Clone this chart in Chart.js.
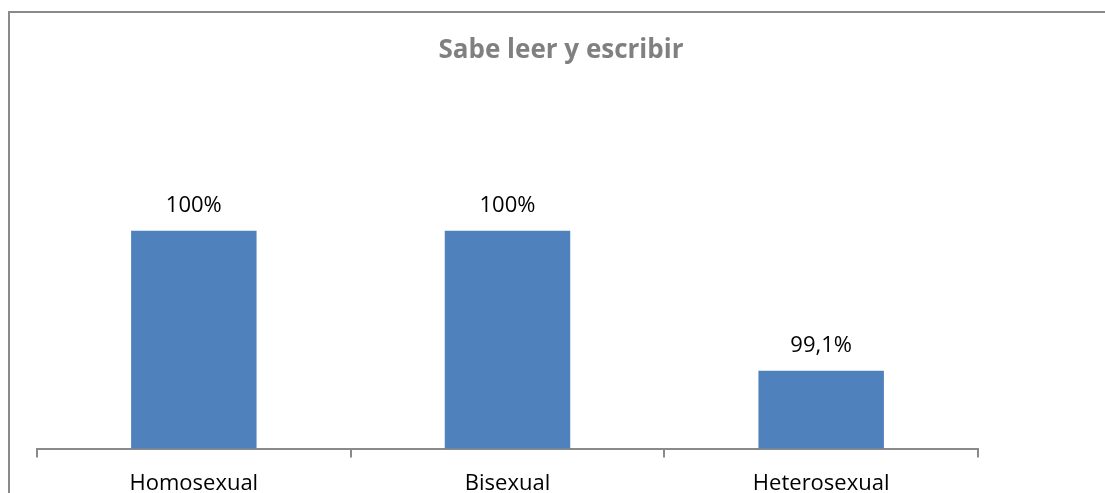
<!DOCTYPE html>
<html lang="es">
<head>
  <meta charset="UTF-8">
  <title>Sabe leer y escribir</title>
  <script src="https://cdn.jsdelivr.net/npm/chart.js"></script>
  <style>
    html, body {
      margin: 0;
      padding: 0;
      background: #ffffff;
      overflow: hidden;
      width: 1105px;
      height: 493px;
    }
    .frame {
      position: absolute;
      left: 8px;
      top: 11px;
      width: 1200px;
      height: 600px;
      border-top: 2px solid #8a8a8a;
      border-left: 2px solid #8a8a8a;
    }
    .chart-box {
      position: absolute;
      left: 0;
      top: 0;
      width: 1105px;
      height: 510px;
    }
  </style>
</head>
<body>
  <div class="frame"></div>
  <div class="chart-box">
    <canvas id="chart"></canvas>
  </div>

  <script>
    // data
    const categories = ['Homosexual', 'Bisexual', 'Heterosexual'];
    const values = [100, 100, 99.1];
    const valueLabels = values.map(v => String(v).replace('.', ',') + '%');
    const titleText = 'Sabe leer y escribir';

    const font = "'Open Sans', sans-serif";

    // title (centred on the whole frame, not the plot) + value above each bar
    const extras = {
      id: 'extras',
      afterDraw(chart) {
        const ctx = chart.ctx;
        ctx.save();
        ctx.textAlign = 'center';
        ctx.textBaseline = 'middle';
        ctx.font = 'bold 26px ' + font;
        ctx.fillStyle = '#808080';
        ctx.fillText(titleText, 561, 51);

        ctx.font = '22px ' + font;
        ctx.fillStyle = '#000000';
        chart.getDatasetMeta(0).data.forEach((bar, i) => {
          ctx.fillText(valueLabels[i], bar.x, bar.y - 25);
        });
        ctx.restore();
      }
    };

    new Chart(document.getElementById('chart'), {
      type: 'bar',
      data: {
        labels: categories,
        datasets: [{
          data: values,
          backgroundColor: '#4f81bd',
          borderWidth: 0,
          barPercentage: 0.4,
          categoryPercentage: 1
        }]
      },
      options: {
        responsive: true,
        maintainAspectRatio: false,
        animation: false,
        layout: { padding: { left: 37, right: 127, top: 75, bottom: 0 } },
        plugins: {
          legend: { display: false },
          tooltip: { enabled: false },
          title: { display: false }
        },
        scales: {
          x: {
            grid: {
              drawOnChartArea: false,
              drawTicks: true,
              tickLength: 9,
              color: '#8a8a8a',
              lineWidth: 2
            },
            border: { color: '#8a8a8a', width: 2 },
            ticks: {
              color: '#000000',
              padding: 13,
              font: { family: font, size: 22 }
            }
          },
          y: {
            display: false,
            min: 98.6,
            max: 101
          }
        }
      },
      plugins: [extras]
    });
  </script>
</body>
</html>
